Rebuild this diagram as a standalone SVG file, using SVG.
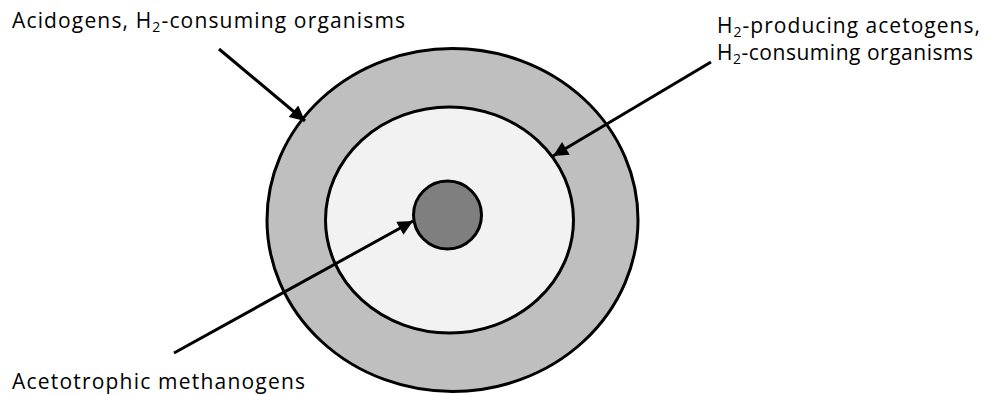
<svg xmlns="http://www.w3.org/2000/svg" width="987" height="395" viewBox="0 0 987 395">
<defs>
<style>
.lbl{font-family:"Open Sans","Liberation Sans",sans-serif;font-size:21px;fill:#000}
.sub{font-size:14px}
.ring{stroke:#000;stroke-width:3}
.conn{stroke:#000;stroke-width:3;fill:none;marker-end:url(#ah)}
</style>
<marker id="ah" viewBox="0 0 10 10" refX="10" refY="5" markerWidth="6.5" markerHeight="5" markerUnits="strokeWidth" orient="auto">
<path d="M0,0 L10,5 L0,10 z" fill="#000"/>
</marker>
</defs>
<rect width="987" height="395" fill="#fff"/>
<g id="outer-ring"><ellipse class="ring" cx="452.5" cy="220" rx="185.5" ry="171.5" fill="#bfbfbf"/></g>
<g id="inner-ring"><ellipse class="ring" cx="449.5" cy="220" rx="124" ry="113" fill="#f2f2f2"/></g>
<g id="core"><circle class="ring" cx="447.5" cy="215" r="34" fill="#7f7f7f"/></g>
<g id="connectors">
<line class="conn" x1="219" y1="49" x2="305" y2="121"/>
<line class="conn" x1="711" y1="62" x2="553" y2="156"/>
<line class="conn" x1="174" y1="353" x2="413" y2="221"/>
</g>
<g id="label-acidogens"><text class="lbl" x="12" y="28" textLength="393" lengthAdjust="spacing">Acidogens, H<tspan class="sub" dy="4">2</tspan><tspan dy="-4">-consuming organisms</tspan></text></g>
<g id="label-acetogens">
<text class="lbl" x="717" y="33" textLength="263" lengthAdjust="spacing">H<tspan class="sub" dy="4">2</tspan><tspan dy="-4">-producing acetogens,</tspan></text>
<text class="lbl" x="717" y="60" textLength="256" lengthAdjust="spacing">H<tspan class="sub" dy="4">2</tspan><tspan dy="-4">-consuming organisms</tspan></text>
</g>
<g id="label-methanogens"><text class="lbl" x="12" y="389" textLength="293" lengthAdjust="spacing">Acetotrophic methanogens</text></g>
</svg>
